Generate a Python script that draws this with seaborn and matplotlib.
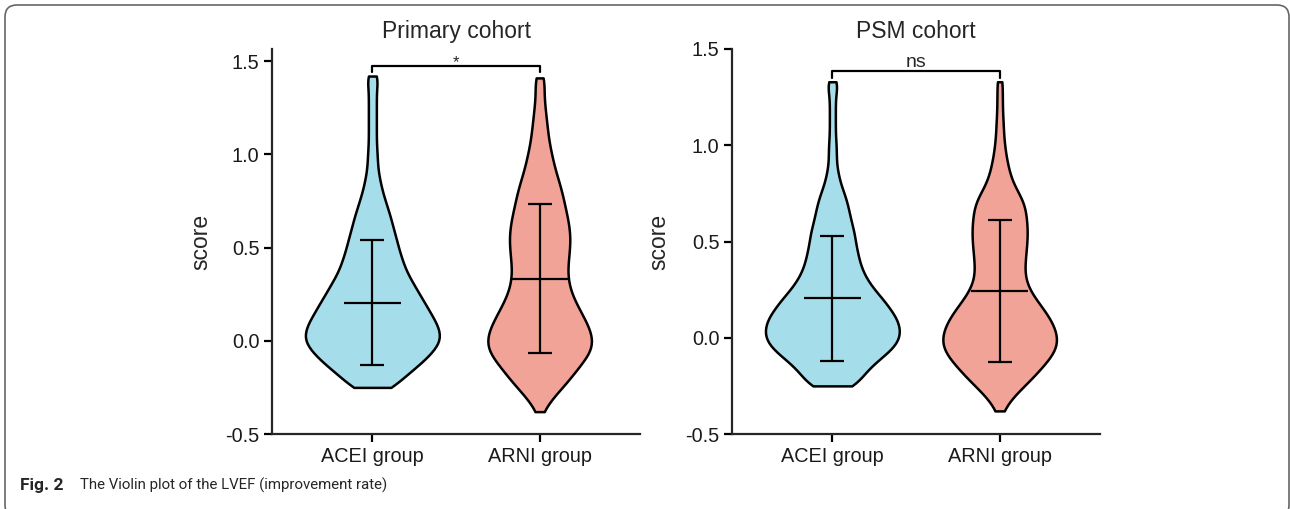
import matplotlib
matplotlib.use("Agg")
import matplotlib.pyplot as plt
import numpy as np
import pandas as pd
import seaborn as sns
from matplotlib.patches import FancyBboxPatch

# ---- data ----
groups = ["ACEI group", "ARNI group"]
colors = {"ACEI group": "#A6DDEA", "ARNI group": "#F2A398"}

# score values (bin centres) and estimated frequencies per group
prim_acei_vals = [-0.25, -0.20, -0.15, -0.10, -0.05, 0.00, 0.05, 0.10, 0.15, 0.20, 0.25, 0.30,
                  0.35, 0.40, 0.45, 0.50, 0.55, 0.60, 0.65, 0.70, 0.75, 0.80, 0.85, 0.90,
                  0.95, 1.00, 1.05, 1.10, 1.15, 1.20, 1.25, 1.30, 1.35, 1.40, 1.42]
prim_acei_cnts = [22, 30, 42, 53, 62, 69, 68, 64, 58, 53, 47, 42,
                  36, 32, 29, 26, 24, 21, 19, 16, 13, 10, 8, 6,
                  5, 5, 4, 4, 4, 4, 4, 4, 4, 4, 4]

prim_arni_vals = [-0.38, -0.33, -0.28, -0.23, -0.18, -0.13, -0.08, -0.03, 0.02, 0.07, 0.12, 0.17,
                  0.22, 0.27, 0.32, 0.37, 0.42, 0.47, 0.52, 0.57, 0.62, 0.67, 0.72, 0.77,
                  0.82, 0.87, 0.92, 0.97, 1.02, 1.07, 1.12, 1.17, 1.22, 1.27, 1.32, 1.37, 1.41]
prim_arni_cnts = [3, 9, 17, 26, 33, 40, 48, 53, 52, 49, 44, 39,
                  34, 30, 28, 27, 28, 29, 30, 30, 29, 27, 25, 23,
                  21, 18, 15, 13, 11, 9, 8, 7, 6, 5, 4, 4, 5]

psm_acei_vals = [-0.25, -0.20, -0.15, -0.10, -0.05, 0.00, 0.05, 0.10, 0.15, 0.20, 0.25, 0.30,
                 0.35, 0.40, 0.45, 0.50, 0.55, 0.60, 0.65, 0.70, 0.75, 0.80, 0.85, 0.90,
                 0.95, 1.00, 1.05, 1.10, 1.15, 1.20, 1.25, 1.30, 1.33]
psm_acei_cnts = [24, 30, 38, 50, 62, 68, 68, 65, 58, 51, 42, 35,
                 30, 27, 25, 23, 22, 19, 17, 15, 12, 8, 6, 4,
                 4, 4, 3, 3, 3, 3, 3, 4, 4]

psm_arni_vals = [-0.38, -0.33, -0.28, -0.23, -0.18, -0.13, -0.08, -0.03, 0.02, 0.07, 0.12, 0.17,
                 0.22, 0.27, 0.32, 0.37, 0.42, 0.47, 0.52, 0.57, 0.62, 0.67, 0.72, 0.77,
                 0.82, 0.87, 0.92, 0.97, 1.02, 1.07, 1.12, 1.17, 1.22, 1.27, 1.33]
psm_arni_cnts = [4, 10, 20, 31, 41, 50, 59, 63, 62, 58, 52, 44,
                 36, 30, 27, 27, 28, 29, 30, 30, 29, 28, 25, 18,
                 13, 10, 8, 6, 5, 4, 4, 3, 3, 3, 4]

# mean and SD drawn as error bars
prim_mean = [0.205, 0.332]
prim_sd = [0.337, 0.399]
psm_mean = [0.204, 0.243]
psm_sd = [0.323, 0.368]


def make_frame(acei_vals, acei_cnts, arni_vals, arni_cnts):
    a = np.repeat(acei_vals, acei_cnts)
    b = np.repeat(arni_vals, arni_cnts)
    return pd.DataFrame({
        "group": ["ACEI group"] * len(a) + ["ARNI group"] * len(b),
        "score": np.concatenate([a, b]),
    })


sns.set_style("ticks")
plt.rcParams["font.family"] = ["Liberation Sans", "DejaVu Sans"]

fig = plt.figure(figsize=(12.9, 5.09), dpi=100)
ax1 = fig.add_axes([272 / 1290, 1 - 434 / 509, 368 / 1290, 385 / 509])
ax2 = fig.add_axes([732 / 1290, 1 - 434 / 509, 368 / 1290, 385 / 509])

panels = [
    (ax1, make_frame(prim_acei_vals, prim_acei_cnts, prim_arni_vals, prim_arni_cnts),
     prim_mean, prim_sd, "Primary cohort", 1.565, "*"),
    (ax2, make_frame(psm_acei_vals, psm_acei_cnts, psm_arni_vals, psm_arni_cnts),
     psm_mean, psm_sd, "PSM cohort", 1.5, "ns"),
]

for ax, df, means, sds, title, ytop, sig in panels:
    sns.violinplot(data=df, x="group", y="score", hue="group", order=groups,
                   palette=colors, cut=0, inner=None, bw_method=0.13,
                   density_norm="area", common_norm=True, width=0.8,
                   linewidth=1.8, linecolor="black", saturation=1,
                   legend=False, ax=ax)
    xs = np.arange(len(groups))
    ax.errorbar(xs, means, yerr=sds, fmt="none", ecolor="black",
                elinewidth=1.6, capsize=8.5, capthick=1.6, zorder=5)
    ax.hlines(means, xs - 0.17, xs + 0.17, color="black", lw=1.6, zorder=5)

    ax.set_xlim(-0.6, 1.6)
    ax.set_ylim(-0.5, ytop)
    ax.set_yticks([-0.5, 0.0, 0.5, 1.0, 1.5])
    ax.set_yticklabels(["-0.5", "0.0", "0.5", "1.0", "1.5"])
    ax.set_xlabel("")
    ax.set_ylabel("score", fontsize=16.5)
    ax.set_title(title, fontsize=16.5, pad=8)
    sns.despine(ax=ax)
    for s in ["left", "bottom"]:
        ax.spines[s].set_linewidth(1.6)
    ax.tick_params(axis="both", labelsize=14.3, width=1.6, length=5.5,
                   colors="black", labelcolor="#1a1a1a")

    # significance bracket
    if sig == "*":
        yb, yd = 1.474, 1.443
        ax.text(0.5, yb - 0.006, sig, ha="center", va="baseline", fontsize=12)
    else:
        yb, yd = 1.387, 1.349
        ax.text(0.5, yb + 0.021, sig, ha="center", va="baseline", fontsize=14)
    ax.plot([0, 0, 1, 1], [yd, yb, yb, yd], color="black", lw=1.6, clip_on=False)

ax1.yaxis.set_label_coords(-0.163, 0.5)
ax2.yaxis.set_label_coords(-0.168, 0.5)

# caption and frame
cap_font = ["Roboto", "Liberation Sans"]
fig.text(20 / 1290, 1 - 490 / 509, "Fig. 2", fontsize=12.5, fontweight="bold",
         family=cap_font, va="baseline")
fig.text(80 / 1290, 1 - 490 / 509, "The Violin plot of the LVEF (improvement rate)",
         fontsize=10.8, family=cap_font, va="baseline")
frame = FancyBboxPatch((5, -8), 1284, 512, boxstyle="round,pad=0,rounding_size=12",
                       transform=None, fill=False, ec="#666666", lw=1.2)
fig.add_artist(frame)

fig.savefig("out.png", dpi=100)
